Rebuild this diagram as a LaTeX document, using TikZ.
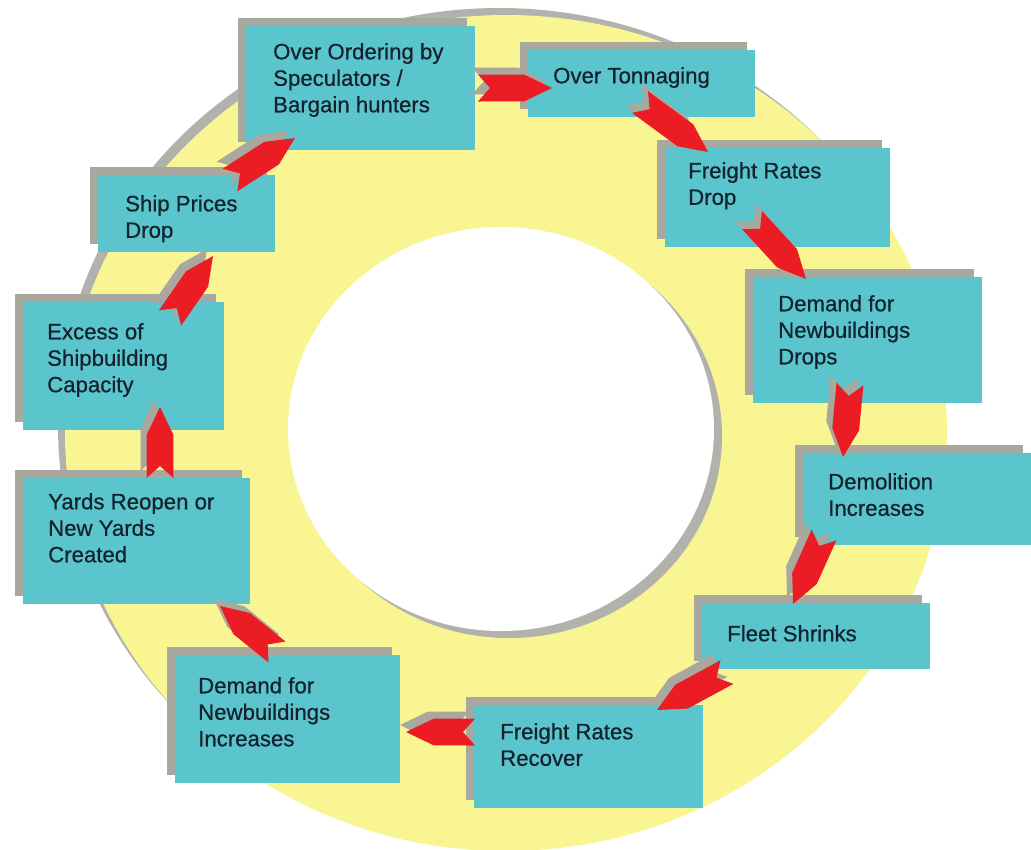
\documentclass[tikz,border=0pt]{standalone}
\usepackage{fontspec}
\setmainfont{Liberation Sans}
\newfontfamily\boxfont[FakeBold=0.6]{Liberation Sans}
\usetikzlibrary{calc,shadows}
\definecolor{ringyellow}{HTML}{F9F592}
\definecolor{ringgray}{HTML}{B2B2AC}
\definecolor{boxcyan}{HTML}{5BC5CE}
\definecolor{boxshadow}{HTML}{A9A89F}
\definecolor{chevred}{HTML}{EC1C24}
\definecolor{txtdark}{HTML}{13222C}
\begin{document}
\begin{tikzpicture}[x=1pt,y=-1pt,
  box/.style={fill=boxcyan, draw=none, anchor=north west, inner sep=0pt,
    drop shadow={shadow xshift=-8pt, shadow yshift=8pt, opacity=1, fill=boxshadow}},
  lbl/.style={anchor=north west, inner sep=0pt, align=left, text=txtdark,
    font=\boxfont\fontsize{22.2}{26.5}\selectfont},
  chevarrow/.style={fill=chevred, draw=none,
    drop shadow={shadow xshift=-6pt, shadow yshift=7pt, opacity=1, fill=boxshadow},
    to path={($(\tikztostart)!13.5pt!90:(\tikztotarget)$)
      -- ($(\tikztostart)!12pt!(\tikztotarget)$)
      -- ($(\tikztostart)!13.5pt!-90:(\tikztotarget)$)
      -- ($(\tikztotarget)!31pt!25.7:(\tikztostart)$)
      -- (\tikztotarget)
      -- ($(\tikztotarget)!31pt!-25.7:(\tikztostart)$)
      -- cycle}}]
\useasboundingbox (0,0) rectangle (1031,849);
\fill[white] (0,0) rectangle (1031,849);
% ring
\fill[ringgray] (499,426) ellipse [x radius=441pt, y radius=418pt];
\fill[ringyellow] (506,433) ellipse [x radius=441pt, y radius=418pt];
\fill[ringgray] (509,436) ellipse [x radius=213pt, y radius=202pt];
\fill[white] (501,429) ellipse [x radius=213pt, y radius=202pt];
% boxes
\node[box, minimum width=229pt, minimum height=124pt] (b1) at (246,26) {};
\node[box, minimum width=227pt, minimum height=67pt] (b2) at (528,50) {};
\node[box, minimum width=225pt, minimum height=99pt] (b3) at (665,148) {};
\node[box, minimum width=229pt, minimum height=126pt] (b4) at (753,277) {};
\node[box, minimum width=228pt, minimum height=92pt] (b5) at (803,453) {};
\node[box, minimum width=228pt, minimum height=66pt] (b6) at (702,603) {};
\node[box, minimum width=229pt, minimum height=103pt] (b7) at (474,705) {};
\node[box, minimum width=225pt, minimum height=128pt] (b8) at (175,655) {};
\node[box, minimum width=227pt, minimum height=126pt] (b9) at (23,478) {};
\node[box, minimum width=201pt, minimum height=128pt] (b10) at (23,302) {};
\node[box, minimum width=177pt, minimum height=77pt] (b11) at (98,175) {};
% texts
\node[lbl] (t1) at (273,43) {Over Ordering by\\Speculators /\\Bargain hunters};
\node[lbl] (t2) at (553,67) {Over Tonnaging};
\node[lbl] (t3) at (688,162) {Freight Rates\\Drop};
\node[lbl] (t4) at (778,295) {Demand for\\Newbuildings\\Drops};
\node[lbl] (t5) at (828,473) {Demolition\\Increases};
\node[lbl] (t6) at (727,625) {Fleet Shrinks};
\node[lbl] (t7) at (500,723) {Freight Rates\\Recover};
\node[lbl] (t8) at (198,677) {Demand for\\Newbuildings\\Increases};
\node[lbl] (t9) at (48,493) {Yards Reopen or\\New Yards\\Created};
\node[lbl] (t10) at (47,323) {Excess of\\Shipbuilding\\Capacity};
\node[lbl] (t11) at (125,195) {Ship Prices\\Drop};
% arrows
\path[chevarrow] ([shift={(232,62)}]b1.north west) to ([shift={(24,38)}]b2.north west);
\path[chevarrow] ([shift={(112,52)}]b2.north west) to ([shift={(43,4)}]b3.north west);
\path[chevarrow] ([shift={(87,72)}]b3.north west) to ([shift={(53,2)}]b4.north west);
\path[chevarrow] ([shift={(97,107)}]b4.north west) to ([shift={(40,4)}]b5.north west);
\path[chevarrow] ([shift={(21,82)}]b5.north west) to ([shift={(91,1)}]b6.north west);
\path[chevarrow] ([shift={(25,69)}]b6.north west) to ([shift={(183,5)}]b7.north west);
\path[chevarrow] ([shift={(1,27)}]b7.north west) to ([shift={(231,77)}]b8.north west);
\path[chevarrow] ([shift={(102,-3)}]b8.north west) to ([shift={(197,128)}]b9.north west);
\path[chevarrow] ([shift={(137,0)}]b9.north west) to ([shift={(137,105)}]b10.north west);
\path[chevarrow] ([shift={(147,16)}]b10.north west) to ([shift={(115,81)}]b11.north west);
\path[chevarrow] ([shift={(132,5)}]b11.north west) to ([shift={(49,112)}]b1.north west);
\end{tikzpicture}
\end{document}
